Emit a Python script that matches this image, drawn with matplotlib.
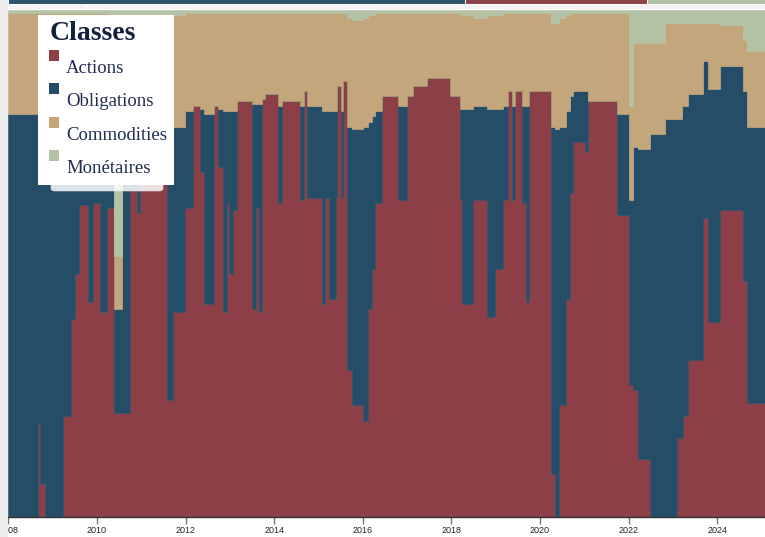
import matplotlib
matplotlib.use("Agg")
import matplotlib.pyplot as plt
from matplotlib.patches import Rectangle, FancyBboxPatch
import numpy as np

# dates (années décimales) où l'allocation change
dates = [2008.00, 2008.67, 2008.71, 2008.83, 2009.23, 2009.41, 2009.50, 2009.59, 2009.80, 2009.91,
         2010.07, 2010.23, 2010.38, 2010.56, 2010.75, 2010.90, 2010.97, 2011.58, 2011.72, 2011.99,
         2012.17, 2012.33, 2012.42, 2012.64, 2012.73, 2012.85, 2012.94, 2012.98, 2013.07, 2013.16,
         2013.50, 2013.59, 2013.66, 2013.73, 2013.79, 2014.09, 2014.18, 2014.58, 2014.67, 2014.74,
         2015.08, 2015.15, 2015.24, 2015.40, 2015.42, 2015.51, 2015.55, 2015.65, 2015.76, 2016.01,
         2016.12, 2016.21, 2016.28, 2016.44, 2016.80, 2017.00, 2017.14, 2017.45, 2017.97, 2018.20,
         2018.24, 2018.49, 2018.81, 2018.99, 2019.17, 2019.28, 2019.37, 2019.44, 2019.60, 2019.69,
         2019.75, 2020.25, 2020.34, 2020.43, 2020.59, 2020.68, 2020.75, 2021.02, 2021.09, 2021.74,
         2022.01, 2022.10, 2022.22, 2022.49, 2022.83, 2023.10, 2023.21, 2023.23, 2023.34, 2023.68,
         2023.80, 2024.07, 2024.59, 2024.68, 2025.10]

# poids en % par classe
actions = [0, 18.5, 6.5, 0, 20, 39, 48, 61.5, 42.5, 62,
           40.5, 61, 20.5, 20.5, 64.5, 60, 66, 23, 40.5, 61,
           81, 68, 42, 81, 69, 40.5, 62, 48, 60.5, 82,
           41, 61, 40.5, 82.5, 83.5, 62, 82, 62.5, 84, 63,
           42, 63, 43, 63, 85, 63, 86, 29, 22, 19,
           41, 49, 62, 83, 62.5, 83, 85, 86.5, 83, 62.5,
           42, 62.5, 39.5, 49, 62.5, 84, 62.5, 84, 62, 42.5,
           84, 8.5, 0, 22, 43, 64, 74, 72, 82, 59.5,
           26, 25, 11.5, 0, 0, 15.5, 15.5, 20, 31, 59,
           38.5, 60.5, 46.5, 22.5, 22.5]
obligations = [79.5, 60.5, 72.5, 79.5, 59, 40, 31, 18, 37, 18,
               39, 18.5, 20.5, 55.5, 13.5, 18, 12, 54, 36.5, 19,
               0, 12.5, 37.5, 0, 11.5, 39.5, 18, 32, 19.5, 0,
               40.5, 20.5, 41, 0, 0, 19, 0, 18.5, 0, 18,
               38, 17, 37, 17, 0, 17, 0, 48, 54.5, 58,
               37, 30, 18, 0, 18.5, 0, 0, 0, 0, 18,
               38.5, 18.5, 41, 31.5, 18.5, 0, 18.5, 0, 19, 38.5,
               0, 68.5, 76.5, 55, 37, 19, 10, 12, 0, 20,
               36.5, 48, 61, 75.5, 78.5, 63, 65.5, 61, 52.5, 31,
               46, 28.5, 37.5, 54.5, 54.5]
commodities = [20, 20.5, 20.5, 20, 20.5, 20.5, 20.5, 20, 20, 19.5,
               20, 19.5, 10.5, 23, 21, 21, 21, 22, 22, 19.5,
               18.5, 19, 20, 18.5, 19, 19.5, 19.5, 19.5, 19.5, 17.5,
               18, 18, 18, 17, 16, 18.5, 17.5, 18.5, 15.5, 18.5,
               19.5, 19.5, 19.5, 19.5, 14.5, 19.5, 13.5, 21.5, 21.5, 21.5,
               21, 20, 19.5, 16.5, 18.5, 16.5, 14.5, 13, 16.5, 18.5,
               18.5, 17.5, 18.5, 18.5, 18.5, 15.5, 18.5, 15.5, 18.5, 18.5,
               15.5, 20.5, 21, 21.5, 19, 16.5, 15.5, 15.5, 17.5, 20,
               18.5, 20.5, 21, 18, 19, 19, 16.5, 16.5, 14, 7.5,
               13, 8, 10, 15, 15]
monetaires = [0.5, 0.5, 0.5, 0.5, 0.5, 0.5, 0.5, 0.5, 0.5, 0.5,
              0.5, 1, 48.5, 1, 1, 1, 1, 1, 1, 0.5,
              0.5, 0.5, 0.5, 0.5, 0.5, 0.5, 0.5, 0.5, 0.5, 0.5,
              0.5, 0.5, 0.5, 0.5, 0.5, 0.5, 0.5, 0.5, 0.5, 0.5,
              0.5, 0.5, 0.5, 0.5, 0.5, 0.5, 0.5, 1.5, 2, 1.5,
              1, 1, 0.5, 0.5, 0.5, 0.5, 0.5, 0.5, 0.5, 1,
              1, 1.5, 1, 1, 0.5, 0.5, 0.5, 0.5, 0.5, 0.5,
              0.5, 2.5, 2.5, 1.5, 1, 0.5, 0.5, 0.5, 0.5, 0.5,
              19, 6.5, 6.5, 6.5, 2.5, 2.5, 2.5, 2.5, 2.5, 2.5,
              2.5, 3, 6, 8, 8]

classes = ["Actions", "Obligations", "Commodities", "Monétaires"]
couleurs = ["#8c3f47", "#254d67", "#c4a67c", "#b4c3a6"]

W, H = 765, 537
fig = plt.figure(figsize=(W / 100, H / 100), dpi=100)

def fx(x):
    return x / W

def fy(y):
    return 1 - y / H

# morceau du graphique du dessus
for x0, x1, c in [(9, 465, "#2e5470"), (466, 647, "#8f444c"), (648, 765, "#b4c2a6")]:
    fig.add_artist(Rectangle((fx(x0), fy(3.5)), fx(x1 - x0), 3.5 / H,
                             transform=fig.transFigure, color=c, lw=0))
for x0, x1 in [(9, 85), (87, 765)]:
    fig.add_artist(Rectangle((fx(x0), fy(9)), fx(x1 - x0), 4.5 / H,
                             transform=fig.transFigure, color="#f3f3f3", lw=0))

ax = fig.add_axes([fx(8), fy(517), fx(765 - 8), (517 - 10) / H])

series = [actions, obligations, commodities, monetaires]
bas = np.zeros(len(dates))
for s, c in zip(series, couleurs):
    haut = bas + np.array(s)
    ax.fill_between(dates, bas, haut, step="post", color=c, lw=0.4, edgecolor=c)
    bas = haut

ax.set_xlim(2007.99, 2025.08)
ax.set_ylim(0, 100)
ax.set_yticks([])
ticks = list(range(2008, 2025, 2))
ax.set_xticks(ticks)
ax.set_xticklabels([str(t) for t in ticks], fontfamily="Liberation Sans", fontsize=6.5, color="#222222")
ax.tick_params(axis="x", length=5, width=1, color="#777777", pad=1.5)
for s in ["top", "left", "right"]:
    ax.spines[s].set_visible(False)
ax.spines["bottom"].set_color("#333333")
ax.spines["bottom"].set_linewidth(1)

# bande grise à gauche (recouvre le début du libellé 2008)
fig.add_artist(Rectangle((0, 0), fx(8), 1, transform=fig.transFigure,
                         color="#ececec", lw=0, zorder=20))

# légende dessinée à la main
fig.add_artist(FancyBboxPatch((fx(51), fy(191)), fx(112), 8 / H,
                              boxstyle="round,pad=0,rounding_size=0.005",
                              transform=fig.transFigure, facecolor="white", alpha=0.85,
                              edgecolor="#dddddd", lw=0.5, zorder=9))
fig.add_artist(Rectangle((fx(38), fy(185)), fx(136), 170 / H, transform=fig.transFigure,
                         facecolor="white", lw=0, zorder=10))
fig.text(fx(50), fy(40), "Classes", fontfamily="Liberation Serif", fontweight="bold",
         fontsize=20, color="#14213d", va="baseline", zorder=11)
for i, (nom, c) in enumerate(zip(classes, couleurs)):
    top = 50 + 33.3 * i
    fig.add_artist(Rectangle((fx(49), fy(top + 11)), fx(10), 11 / H,
                             transform=fig.transFigure, color=c, lw=0, zorder=11))
    fig.text(fx(66), fy(top + 23), nom, fontfamily="Liberation Serif", fontsize=13.5,
             color="#1f2d50", va="baseline", zorder=11)

fig.savefig("out.png", dpi=100)
